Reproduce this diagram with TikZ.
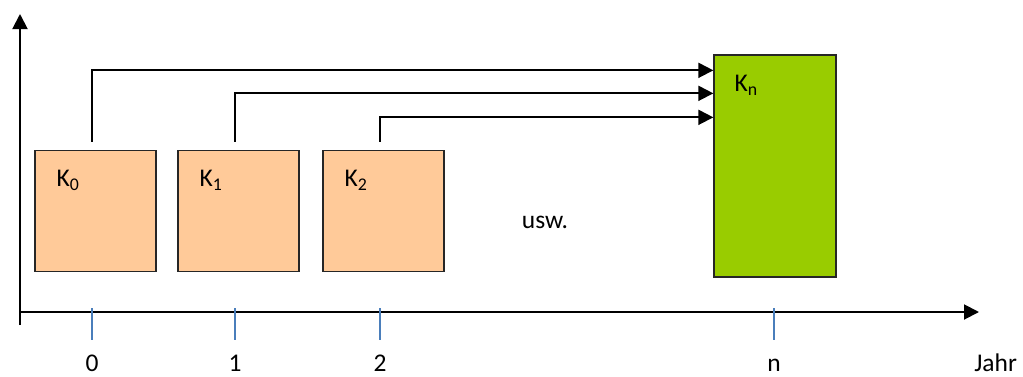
\documentclass[tikz,border=0pt]{standalone}
\usepackage{fontspec}
\setmainfont{Carlito}
\usetikzlibrary{arrows.meta,calc}
\definecolor{kfarbe}{HTML}{FFCA99}
\definecolor{knfarbe}{HTML}{99CC00}
\definecolor{strichfarbe}{HTML}{4A7EBB}

\begin{document}
\begin{tikzpicture}[
        every node/.style={font=\fontsize{14.5}{17}\selectfont},
        pfeil/.style={line width=1.1pt,-{Triangle[length=0.3cm,width=0.3cm]}},
        kasten/.style={draw=black!85,line width=0.75pt,fill=kfarbe,minimum width=2.42cm,minimum height=2.42cm,inner sep=0pt},
        klabel/.style={anchor=base west,inner sep=0pt},
        marke/.style={draw=strichfarbe,line width=0.75pt}
    ]
        \useasboundingbox (0,0) rectangle (20.46,7.52);
        % Achsen
        \coordinate (yu) at (0.40,1.02);
        \coordinate (yo) at (0.40,7.24);
        \coordinate (xa) at (0.40,1.28);
        \coordinate (xe) at (19.58,1.28);
        \draw[pfeil] (yu) -- (yo);
        \draw[pfeil] (xa) -- (xe);
        \node[klabel] (jahr) at (19.48,0.10) {Jahr};
        % Jahresmarken
        \foreach \x/\n/\l in {1.84/t0/0, 4.70/t1/1, 7.60/t2/2, 15.48/tn/n} {
            \coordinate (\n) at (\x,1.36);
            \draw[marke] (\n) -- ++(0,-0.64);
            \node[anchor=base] (l\n) at (\x,0.10) {\l};
        }
        % Kapitalbetraege
        \node[kasten] (k0) at (1.91,3.30) {};
        \node[kasten] (k1) at (4.77,3.30) {};
        \node[kasten] (k2) at (7.67,3.30) {};
        \node[kasten,fill=knfarbe,minimum width=2.44cm,minimum height=4.44cm] (kn) at (15.50,4.20) {};
        \node[klabel] (lk0) at ($(k0.north west)+(0.44,-0.74)$) {K\textsubscript{0}};
        \node[klabel] (lk1) at ($(k1.north west)+(0.44,-0.74)$) {K\textsubscript{1}};
        \node[klabel] (lk2) at ($(k2.north west)+(0.44,-0.74)$) {K\textsubscript{2}};
        \node[klabel] (lkn) at ($(kn.north west)+(0.42,-0.74)$) {K\textsubscript{n}};
        \node[anchor=base] (usw) at (10.90,2.96) {usw.};
        % Aufzinsung bis n
        \draw[pfeil] ($(k0.north -| t0)+(0,0.16)$) |- ($(kn.north west)+(0,-0.32)$);
        \draw[pfeil] ($(k1.north -| t1)+(0,0.16)$) |- ($(kn.north west)+(0,-0.78)$);
        \draw[pfeil] ($(k2.north -| t2)+(0,0.16)$) |- ($(kn.north west)+(0,-1.26)$);
    \end{tikzpicture}
\end{document}
